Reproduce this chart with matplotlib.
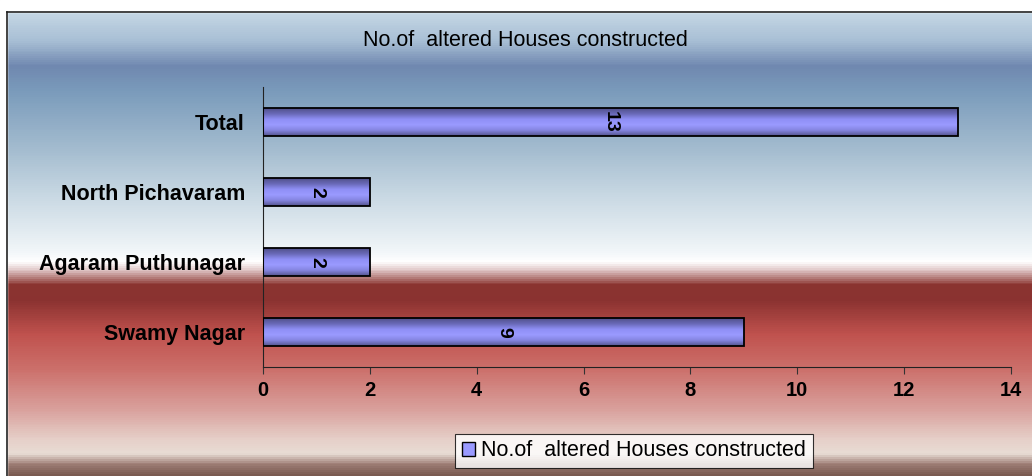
import numpy as np
import matplotlib
matplotlib.use('Agg')
import matplotlib.pyplot as plt
import matplotlib.patches as mpatches
from matplotlib.colors import LinearSegmentedColormap

categories = ['Swamy Nagar', 'Agaram Puthunagar', 'North Pichavaram', 'Total']
values = [9, 2, 2, 13]
x_ticks = [0, 2, 4, 6, 8, 10, 12, 14]
title = 'No.of  altered Houses constructed'
series_name = 'No.of  altered Houses constructed'

plt.rcParams['font.family'] = ['Liberation Sans', 'DejaVu Sans']

fig = plt.figure(figsize=(10.32, 4.76), dpi=100)

# background gradient (pixel rows from top -> colour)
H = 476
stops = [
    (0, '#d0e0ea'), (40, '#a8bfd5'), (65, '#7088b0'), (90, '#7a9bbb'),
    (150, '#a5bdd0'), (200, '#ccdbe5'), (250, '#f0f5f8'), (262, '#ffffff'),
    (272, '#d8b8b8'), (285, '#8b3530'), (300, '#8a3230'), (335, '#c0524e'),
    (370, '#cc706b'), (410, '#d9a09c'), (440, '#e6cfc8'), (455, '#e9ddd5'),
    (465, '#a08078'), (476, '#7a5a50'),
]
bg_cmap = LinearSegmentedColormap.from_list('bg', [(p / H, c) for p, c in stops])
bg = fig.add_axes([0, 0, 1, 1], zorder=0)
bg.imshow(np.linspace(0, 1, 476).reshape(-1, 1), aspect='auto', cmap=bg_cmap,
          extent=[0, 1032, 476, 0])
bg.set_xlim(0, 1032)
bg.set_ylim(476, 0)
bg.axis('off')
# white top strip and frame
bg.add_patch(mpatches.Rectangle((0, 0), 1032, 12, color='white', zorder=2))
bg.add_patch(mpatches.Rectangle((0, 0), 7, 476, color='white', zorder=2))
bg.plot([7, 1032], [12, 12], color='#222222', lw=1.2, zorder=3)
bg.plot([7, 7], [12, 476], color='#222222', lw=1.2, zorder=3)

# main axes: x 263..1011 px, y 87..367 px
ax = fig.add_axes([263 / 1032, (476 - 367) / 476, 748 / 1032, 280 / 476], zorder=1)
ax.patch.set_alpha(0)

bar_cmap = LinearSegmentedColormap.from_list(
    'bar', ['#55558f', '#8585e0', '#9a9aff', '#8f8ff5', '#6a6ab8', '#50508a'])
grad = np.linspace(0, 1, 64).reshape(-1, 1)
h = 0.4
for i, v in enumerate(values):
    ax.imshow(grad, aspect='auto', cmap=bar_cmap, extent=[0, v, i + h / 2, i - h / 2],
              zorder=2)
    ax.add_patch(mpatches.Rectangle((0, i - h / 2), v, h, fill=False,
                                    edgecolor='black', lw=1.3, zorder=3))
    ax.text(v / 2, i, f'{v}', rotation=-90, ha='center', va='center',
            fontsize=14, fontweight='bold', color='black', zorder=4)

ax.set_xlim(0, 14)
ax.set_ylim(-0.5, len(categories) - 0.5)
ax.set_xticks(x_ticks)
ax.set_xticklabels([str(t) for t in x_ticks], fontsize=14.5, fontweight='bold')
ax.set_yticks(range(len(categories)))
ax.set_yticklabels(categories, fontsize=15.5, fontweight='bold')
ax.tick_params(axis='y', length=0, pad=13)
ax.tick_params(axis='x', length=5, direction='out', pad=5, color='#333333')
for s in ['top', 'right']:
    ax.spines[s].set_visible(False)
ax.spines['left'].set_color('#222222')
ax.spines['bottom'].set_color('#222222')

fig.text(525 / 1032, 1 - 40 / 476, title, ha='center', va='center', fontsize=15.5)

handle = mpatches.Patch(facecolor='#9a9aff', edgecolor='black', label=series_name)
leg = fig.legend(handles=[handle], loc='center', bbox_to_anchor=(634 / 1032, 1 - 451 / 476),
                 fontsize=15.5, frameon=True, fancybox=False, edgecolor='black',
                 handlelength=0.6, handleheight=0.6, handletextpad=0.3, borderpad=0.3)
leg.get_frame().set_linewidth(0.8)

fig.savefig('out.png', dpi=100)
